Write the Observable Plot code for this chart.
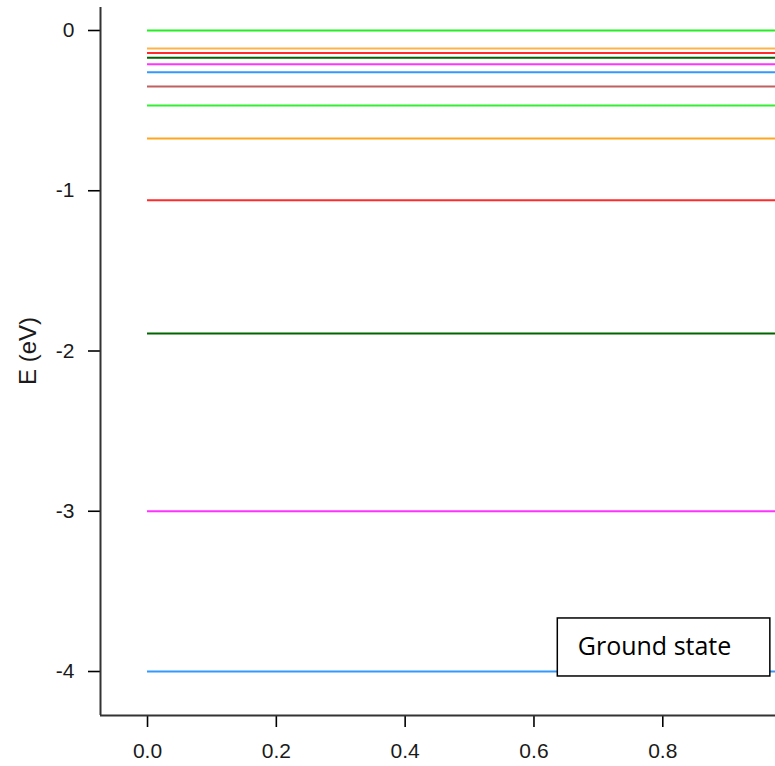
<!DOCTYPE html>
<html>
<head>
<meta charset="utf-8">
<script src="https://cdn.jsdelivr.net/npm/d3@7"></script>
<script src="https://cdn.jsdelivr.net/npm/@observablehq/plot@0.6"></script>
<style>
  html, body { margin: 0; padding: 0; background: #fff; }
  #chart svg { display: block; }
</style>
</head>
<body>
<div id="chart"></div>
<script>
// Energy levels (eV), bottom to top
const levels = [-4.0, -3.0, -1.89, -1.06, -0.674, -0.468, -0.349, -0.26, -0.21, -0.17, -0.141, -0.112, 0.0];
const levelColors = ["#3399ff", "#ff33ff", "#006400", "#ff2a2a", "#ffa51f", "#33ee33", "#c06060",
                     "#3399ff", "#ff33ff", "#006400", "#ff2a2a", "#ffb347", "#22ee22"];
const xTicks = [0, 0.2, 0.4, 0.6, 0.8];
const yTicks = [0, -1, -2, -3, -4];
const labelText = ["Ground state"];
const yTitle = ["E (eV)"];

const xDomain = [-0.073, 0.975];
const yDomain = [-4.2745, 0.1435];

const data = levels.map((e, i) => ({E: e, color: levelColors[i]}));
const box = [{x1: 0.637, x2: 0.967, y1: -4.031, y2: -3.669, label: labelText[0], tx: 0.668, ty: -3.85}];
const font = "'Liberation Sans', Arial, sans-serif";

const chart = Plot.plot({
  width: 775,
  height: 766,
  marginLeft: 100,
  marginRight: 0,
  marginTop: 7,
  marginBottom: 51,
  style: {fontFamily: font},
  x: {domain: xDomain},
  y: {domain: yDomain},
  marks: [
    Plot.ruleY(data, {y: "E", x1: 0, x2: 1.05, stroke: "color", strokeWidth: 2, clip: true}),
    Plot.rect(box, {x1: "x1", x2: "x2", y1: "y1", y2: "y2", fill: "white", stroke: "black", strokeWidth: 1.5}),
    Plot.text(box, {x: "tx", y: "ty", text: "label", textAnchor: "start", fill: "black", fontSize: 25, fontFamily: "'Open Sans', sans-serif"}),
    Plot.axisY({ticks: yTicks, tickFormat: () => "", tickSize: 12, strokeWidth: 1.6, label: null}),
    Plot.axisX({ticks: xTicks, tickFormat: () => "", tickSize: 12, strokeWidth: 1.6, label: null}),
    Plot.text(yTicks, {y: d => d, x: xDomain[0], text: d => String(d), dx: -26, textAnchor: "end", fontSize: 21, fontFamily: font, fill: "#1a1a1a", clip: false}),
    Plot.text(xTicks, {x: d => d, y: yDomain[0], text: d => d.toFixed(1), dy: 36, fontSize: 21, fontFamily: font, fill: "#1a1a1a", clip: false}),
    Plot.text(yTitle, {x: xDomain[0], y: -2.0, text: d => d, dx: -72, rotate: -90, fontSize: 24, fontFamily: font, fill: "#1a1a1a", clip: false}),
    Plot.ruleX([xDomain[0]], {stroke: "#333", strokeWidth: 2}),
    Plot.ruleY([yDomain[0]], {stroke: "#333", strokeWidth: 2})
  ]
});
document.getElementById("chart").appendChild(chart);
</script>
</body>
</html>
